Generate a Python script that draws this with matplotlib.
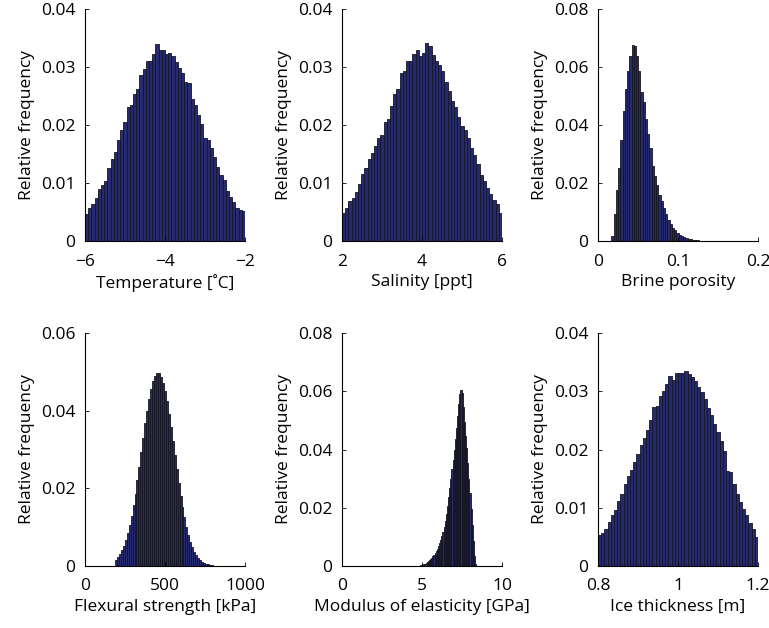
import numpy as np
import matplotlib
matplotlib.use('Agg')
import matplotlib.pyplot as plt

plt.rcParams['font.family'] = ['Open Sans', 'DejaVu Sans']

# relative frequency per bin (50 bins each)
temperature = [0.0046, 0.0057, 0.0064, 0.0075, 0.0089, 0.0097, 0.0104, 0.0126, 0.0141, 0.0153,
               0.0174, 0.0191, 0.0205, 0.0231, 0.0234, 0.0254, 0.0262, 0.0287, 0.0297, 0.0311,
               0.0311, 0.0323, 0.0340, 0.0330, 0.0330, 0.0323, 0.0325, 0.0319, 0.0309, 0.0298,
               0.0290, 0.0275, 0.0273, 0.0245, 0.0235, 0.0218, 0.0201, 0.0178, 0.0174, 0.0160,
               0.0144, 0.0127, 0.0113, 0.0106, 0.0086, 0.0076, 0.0067, 0.0057, 0.0053, 0.0051]
salinity = [0.0049, 0.0057, 0.0069, 0.0074, 0.0085, 0.0098, 0.0115, 0.0126, 0.0142, 0.0151,
            0.0163, 0.0178, 0.0183, 0.0205, 0.0210, 0.0233, 0.0253, 0.0262, 0.0289, 0.0293,
            0.0310, 0.0311, 0.0323, 0.0329, 0.0319, 0.0325, 0.0342, 0.0336, 0.0320, 0.0311,
            0.0303, 0.0293, 0.0274, 0.0258, 0.0241, 0.0231, 0.0214, 0.0199, 0.0191, 0.0177,
            0.0161, 0.0149, 0.0133, 0.0113, 0.0104, 0.0091, 0.0081, 0.0071, 0.0063, 0.0049]
brine = [0.0017, 0.0094, 0.0177, 0.0251, 0.0349, 0.0448, 0.0523, 0.0585, 0.0638, 0.0677,
         0.0672, 0.0638, 0.0585, 0.0514, 0.0480, 0.0421, 0.0368, 0.0322, 0.0257, 0.0223,
         0.0194, 0.0160, 0.0137, 0.0114, 0.0094, 0.0074, 0.0059, 0.0046, 0.0037, 0.0029,
         0.0021, 0.0016, 0.0013, 0.0010, 0.0008, 0.0006, 0.0005, 0.0003, 0.0002, 0.00015,
         0.0001, 0.0001, 0.00008, 0.00005, 0.00004, 0.00003, 0.00002, 0.00002, 0.00001, 0.00001]
flexural = [0.0016, 0.0022, 0.0030, 0.0040, 0.0051, 0.0066, 0.0085, 0.0105, 0.0130, 0.0157,
            0.0186, 0.0222, 0.0256, 0.0293, 0.0329, 0.0367, 0.0400, 0.0429, 0.0455, 0.0477,
            0.0490, 0.0497, 0.0496, 0.0487, 0.0472, 0.0451, 0.0425, 0.0392, 0.0358, 0.0323,
            0.0287, 0.0250, 0.0214, 0.0181, 0.0152, 0.0125, 0.0100, 0.0080, 0.0063, 0.0049,
            0.0037, 0.0028, 0.0021, 0.0015, 0.0011, 0.0008, 0.0005, 0.0004, 0.0002, 0.0002]
modulus = [0.0002, 0.0003, 0.0004, 0.0006, 0.0008, 0.0011, 0.0014, 0.0017, 0.0020, 0.0024,
           0.0028, 0.0033, 0.0038, 0.0045, 0.0052, 0.0060, 0.0069, 0.0079, 0.0090, 0.0103,
           0.0118, 0.0135, 0.0155, 0.0180, 0.0207, 0.0237, 0.0268, 0.0300, 0.0332, 0.0365,
           0.0400, 0.0435, 0.0475, 0.0515, 0.0555, 0.0590, 0.0605, 0.0595, 0.0545, 0.0495,
           0.0445, 0.0405, 0.0355, 0.0300, 0.0250, 0.0195, 0.0140, 0.0085, 0.0035, 0.0008]
thickness = [0.0053, 0.0057, 0.0064, 0.0075, 0.0087, 0.0096, 0.0112, 0.0124, 0.0141, 0.0154,
             0.0165, 0.0178, 0.0192, 0.0207, 0.0219, 0.0233, 0.0250, 0.0273, 0.0275, 0.0291,
             0.0301, 0.0313, 0.0327, 0.0319, 0.0331, 0.0332, 0.0331, 0.0334, 0.0330, 0.0324,
             0.0318, 0.0308, 0.0298, 0.0286, 0.0272, 0.0260, 0.0244, 0.0230, 0.0214, 0.0198,
             0.0163, 0.0161, 0.0141, 0.0124, 0.0110, 0.0097, 0.0088, 0.0074, 0.0064, 0.0049]

# data range covered by the bins
bin_range = [(-6, -2), (2, 6), (0.0167, 0.1567), (187, 799), (4.87, 8.39), (0.8, 1.2)]
series = [temperature, salinity, brine, flexural, modulus, thickness]
xlabels = ['Temperature [˚C]', 'Salinity [ppt]', 'Brine porosity',
           'Flexural strength [kPa]', 'Modulus of elasticity [GPa]', 'Ice thickness [m]']
xlims = [(-6, -2), (2, 6), (0, 0.2), (0, 1000), (0, 10), (0.8, 1.2)]
xticks = [[-6, -4, -2], [2, 4, 6], [0, 0.1, 0.2], [0, 500, 1000], [0, 5, 10], [0.8, 1, 1.2]]
ytops = [0.04, 0.04, 0.08, 0.06, 0.08, 0.04]
ysteps = [0.01, 0.01, 0.02, 0.02, 0.02, 0.01]


def fmt(v):
    if abs(v) < 1e-12:
        return '0'
    s = ('%.2f' % v).rstrip('0').rstrip('.')
    return s.replace('-', '\u2212')


fig = plt.figure(figsize=(7.69, 6.28), dpi=100)
W, H = 769.0, 628.0
lefts = [85, 342, 598]
rows = [(241, 232), (566, 233)]

for k in range(6):
    r, c = divmod(k, 3)
    base, h = rows[r]
    ax = fig.add_axes([lefts[c] / W, 1 - base / H, 160 / W, h / H])
    lo, hi = bin_range[k]
    edges = np.linspace(lo, hi, len(series[k]) + 1)
    ax.bar(edges[:-1], series[k], width=edges[1] - edges[0], align='edge',
           facecolor='#262a70', edgecolor='#15151f', linewidth=0.6)
    ax.set_xlim(*xlims[k])
    ax.set_ylim(0, ytops[k])
    ax.set_xticks(xticks[k])
    ax.set_xticklabels([fmt(v) for v in xticks[k]])
    yt = np.arange(0, ytops[k] + 1e-9, ysteps[k])
    ax.set_yticks(yt)
    ax.set_yticklabels([fmt(v) for v in yt])
    for s in ['top', 'right']:
        ax.spines[s].set_visible(False)
    for s in ['left', 'bottom']:
        ax.spines[s].set_linewidth(0.8)
    ax.tick_params(direction='in', length=3, width=0.6, labelsize=12.5)
    ax.tick_params(axis='x', pad=9)
    ax.tick_params(axis='y', pad=7)
    ax.set_xlabel(xlabels[k], fontsize=12.5, labelpad=3)
    ax.set_ylabel('Relative frequency', fontsize=12.5, labelpad=4)

fig.savefig('out.png', dpi=100)
